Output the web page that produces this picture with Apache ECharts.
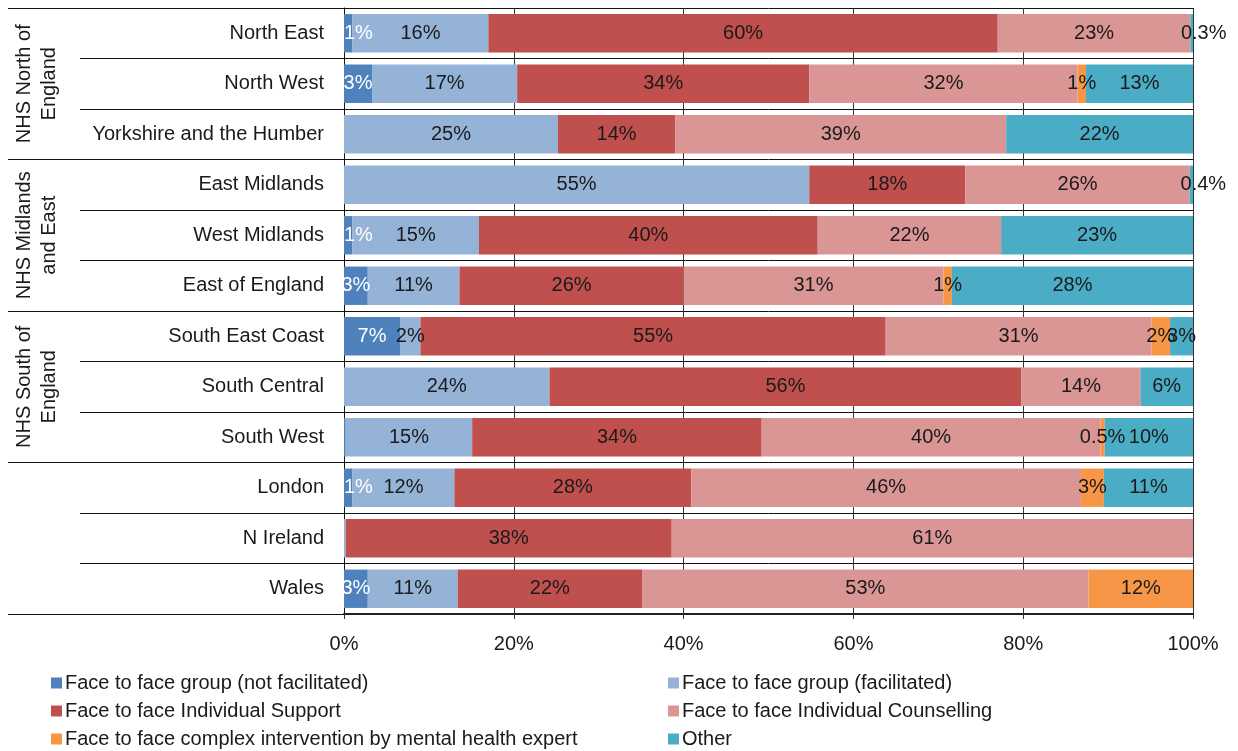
<!DOCTYPE html>
<html>
<head>
<meta charset="utf-8">
<title>Face to face support by region</title>
<script src="https://cdn.jsdelivr.net/npm/echarts@6.0.0/dist/echarts.min.js"></script>
<style>
  html, body { margin: 0; padding: 0; background: #ffffff; }
  #chart { width: 1238px; height: 751px; }
</style>
</head>
<body>
<div id="chart"></div>
<script>
// Regions (top to bottom) and the NHS groupings they belong to (three regions each)
const regions = [
  'North East', 'North West', 'Yorkshire and the Humber',
  'East Midlands', 'West Midlands', 'East of England',
  'South East Coast', 'South Central', 'South West',
  'London', 'N Ireland', 'Wales'
];
const regionGroups = ['NHS North of\nEngland', 'NHS Midlands\nand East', 'NHS South of\nEngland', ''];

// Share of each type of support, per region (%)
const groupNotFacilitated   = [1.0, 3.3, 0, 0, 1.0, 2.8, 6.6, 0, 0.2, 1.0, 0, 2.8];
const groupFacilitated      = [16.0, 17.1, 25.2, 54.8, 14.9, 10.8, 2.4, 24.2, 14.9, 12.0, 0.2, 10.6];
const individualSupport     = [60.0, 34.4, 13.8, 18.4, 39.9, 26.4, 54.8, 55.6, 34.1, 27.9, 38.4, 21.7];
const individualCounselling = [22.7, 31.6, 39.0, 26.4, 21.6, 30.6, 31.3, 14.0, 39.9, 45.9, 61.4, 52.6];
const complexIntervention   = [0, 1.0, 0, 0, 0, 1.0, 2.2, 0, 0.5, 2.7, 0, 12.3];
const otherSupport          = [0.3, 12.6, 22.0, 0.4, 22.6, 28.4, 2.7, 6.2, 10.4, 10.5, 0, 0];

const xTicks = [0, 20, 40, 60, 80, 100];

const seriesDefs = [
  { name: 'Face to face group (not facilitated)', data: groupNotFacilitated, color: '#4F81BD', text: '#ffffff' },
  { name: 'Face to face group (facilitated)', data: groupFacilitated, color: '#95B3D7', text: '#1a1a1a' },
  { name: 'Face to face Individual Support', data: individualSupport, color: '#C0504D', text: '#1a1a1a' },
  { name: 'Face to face Individual Counselling', data: individualCounselling, color: '#D99694', text: '#1a1a1a' },
  { name: 'Face to face complex intervention by mental health expert', data: complexIntervention, color: '#F79646', text: '#1a1a1a' },
  { name: 'Other', data: otherSupport, color: '#4BACC6', text: '#1a1a1a' }
];

const FONT = '"Liberation Sans", Arial, Helvetica, sans-serif';
const INK = '#1a1a1a';

function pctText(v) {
  if (v < 0.3) return '';
  return (v < 1 ? v.toFixed(1) : String(Math.round(v))) + '%';
}

const series = seriesDefs.map(function (def, si) {
  return {
    name: def.name,
    type: 'bar',
    stack: 'share',
    barCategoryGap: '24%',
    itemStyle: { color: def.color },
    label: {
      show: true,
      position: 'inside',
      color: def.text,
      fontFamily: FONT,
      fontSize: 20,
      formatter: function (p) { return pctText(p.value); }
    },
    emphasis: { disabled: true },
    data: def.data.map(function (v) {
      // very narrow first segments keep their label inside the plot, starting at the bar's left end
      if (si === 0 && v > 0 && v < 2) {
        return { value: v, label: { position: 'insideLeft', distance: 0 } };
      }
      // tiny end-of-bar slivers get their label nudged past the bar end
      if (si === seriesDefs.length - 1 && v > 0 && v < 1) {
        return { value: v, label: { offset: [12, 0] } };
      }
      return v;
    })
  };
});

// One legend per column; a tiny width makes every item start a new row
const legendCommon = {
  orient: 'horizontal',
  top: 668,
  width: 10,
  itemWidth: 11,
  itemHeight: 11,
  itemGap: 8,
  icon: 'rect',
  selectedMode: false,
  textStyle: { fontFamily: FONT, fontSize: 20, color: INK, lineHeight: 20, padding: [0, 0, 0, -2] }
};

const option = {
  animation: false,
  backgroundColor: '#ffffff',
  grid: { left: 344, right: 45, top: 8, bottom: 137, containLabel: false, outerBoundsMode: 'none' },
  legend: [
    Object.assign({}, legendCommon, {
      left: 46,
      data: [seriesDefs[0].name, seriesDefs[2].name, seriesDefs[4].name]
    }),
    Object.assign({}, legendCommon, {
      left: 663,
      data: [seriesDefs[1].name, seriesDefs[3].name, seriesDefs[5].name]
    })
  ],
  xAxis: {
    type: 'value',
    min: xTicks[0],
    max: xTicks[xTicks.length - 1],
    interval: xTicks[1] - xTicks[0],
    axisLine: { show: true, lineStyle: { color: '#222222', width: 2 } },
    axisTick: { show: true, length: 5, lineStyle: { color: '#333333' } },
    splitLine: { show: true, lineStyle: { color: '#333333', width: 1 } },
    axisLabel: {
      margin: 20,
      fontFamily: FONT,
      fontSize: 20,
      color: INK,
      formatter: '{value}%'
    }
  },
  yAxis: [
    {
      type: 'category',
      inverse: true,
      data: regions,
      position: 'left',
      axisLine: { show: true, lineStyle: { color: '#111111', width: 1 } },
      axisTick: { show: true, length: 264, lineStyle: { color: '#111111', width: 1 } },
      splitLine: { show: true, lineStyle: { color: '#111111', width: 1 } },
      axisLabel: {
        interval: 0,
        margin: 20,
        fontFamily: FONT,
        fontSize: 20,
        color: INK
      }
    },
    {
      type: 'category',
      inverse: true,
      data: regionGroups,
      position: 'left',
      axisLine: { show: false },
      axisTick: { show: true, length: 336, lineStyle: { color: '#111111', width: 1 } },
      splitLine: { show: false },
      axisLabel: {
        interval: 0,
        rotate: 90,
        margin: 282,
        fontFamily: FONT,
        fontSize: 20,
        lineHeight: 25,
        color: INK
      }
    }
  ],
  series: series
};

const chart = echarts.init(document.getElementById('chart'), null, { renderer: 'canvas' });
chart.setOption(option);
</script>
</body>
</html>
